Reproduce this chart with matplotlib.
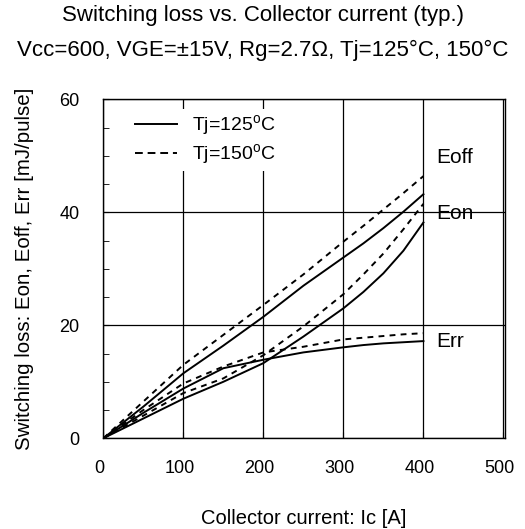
import matplotlib.pyplot as plt
import matplotlib.transforms as mtransforms
from matplotlib.lines import Line2D
from matplotlib.ticker import MultipleLocator

plt.rcParams['font.family'] = ['Liberation Sans', 'DejaVu Sans']

# Collector current [A]
ic = [0, 50, 100, 150, 200, 250, 300, 325, 350, 375, 400]

# Switching losses [mJ/pulse]
eoff_125 = [0, 5.6, 11.5, 16.4, 21.5, 27.0, 32.0, 34.5, 37.2, 40.1, 43.2]
eoff_150 = [0, 6.5, 13.0, 18.3, 23.6, 29.0, 34.8, 37.6, 40.5, 43.4, 46.4]
eon_125 = [0, 3.5, 7.0, 10.0, 13.3, 18.0, 23.0, 25.9, 29.2, 33.2, 38.2]
eon_150 = [0, 4.0, 8.0, 10.6, 14.7, 19.8, 25.5, 29.0, 32.7, 37.0, 41.5]
err_125 = [0, 4.5, 8.8, 12.4, 13.9, 15.2, 16.1, 16.5, 16.8, 17.0, 17.2]
err_150 = [0, 5.0, 9.7, 12.7, 15.2, 16.2, 17.5, 17.8, 18.1, 18.4, 18.6]

curve_labels = ["Eoff", "Eon", "Err"]
label_y = [49.7, 39.8, 17.1]

fig = plt.figure(figsize=(5.25, 5.29), dpi=100)
ax = fig.add_axes([0.1968, 0.1715, 0.7652, 0.6408])

dash = (0, (3, 2.7))
for s in (eoff_125, eon_125, err_125):
    ax.plot(ic, s, color='black', lw=1.4)
for s in (eoff_150, eon_150, err_150):
    ax.plot(ic, s, color='black', lw=1.4, linestyle=dash)

for name, y in zip(curve_labels, label_y):
    ax.text(416, y, name, fontsize=15, va='center', ha='left')

ax.set_xlim(0, 502)
ax.set_ylim(0, 60)
ax.xaxis.set_major_locator(MultipleLocator(100))
ax.yaxis.set_major_locator(MultipleLocator(20))
ax.yaxis.set_minor_locator(MultipleLocator(5))
ax.tick_params(which='both', direction='in', labelsize=13, length=4)
ax.tick_params(axis='x', pad=16)
ax.tick_params(axis='y', pad=17)
ax.grid(True, which='major', color='black', lw=0.9)
for sp in ax.spines.values():
    sp.set_linewidth(1.0)

# x tick labels sit a few pixels left of their ticks in the reference
shift = mtransforms.ScaledTranslation(-4 / 100, 0, fig.dpi_scale_trans)
for lab in ax.get_xticklabels():
    lab.set_transform(lab.get_transform() + shift)

handles = [Line2D([], [], color='black', lw=1.4),
           Line2D([], [], color='black', lw=1.4, linestyle=(0, (4, 2.5)))]
leg = ax.legend(handles, ['Tj=125$^{\\mathregular{o}}$C', 'Tj=150$^{\\mathregular{o}}$C'],
                loc='upper left', bbox_to_anchor=(0.045, 1.0), fontsize=14,
                frameon=True, fancybox=False, framealpha=1, edgecolor='none',
                handlelength=2.15, handletextpad=0.8, labelspacing=0.25,
                borderpad=0.2)
leg.get_frame().set_facecolor('white')

ax.set_xlabel('Collector current: Ic [A]', fontsize=14.5, labelpad=22.5)
ax.set_ylabel('Switching loss: Eon, Eoff, Err [mJ/pulse]', fontsize=14.8, labelpad=18)
fig.text(0.5, 0.970, 'Switching loss vs. Collector current (typ.)', fontsize=16,
         ha='center', va='center')
fig.text(0.5, 0.904, 'Vcc=600, VGE=\u00b115V, Rg=2.7\u03a9, Tj=125\u00b0C, 150\u00b0C',
         fontsize=16, ha='center', va='center')

fig.savefig('out.png', dpi=100)
